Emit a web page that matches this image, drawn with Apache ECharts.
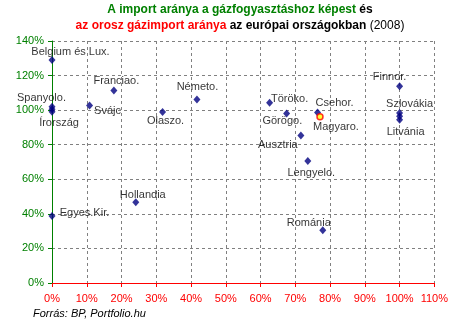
<!DOCTYPE html>
<html><head><meta charset="utf-8">
<script src="https://cdn.jsdelivr.net/npm/echarts@6/dist/echarts.min.js"></script>
<style>html,body{margin:0;padding:0;background:#fff}#c{width:451px;height:327px}</style>
</head><body><div id="c"></div>
<script>
var countries = ["Belgium és Lux.","Spanyolo.","Írország","","Svájc","Franciao.","Olaszo.","Németo.","Töröko.","Görögo.","Csehor.","Ausztria","Lengyelo.","Finnor.","Szlovákia","","Litvánia","Románia","Hollandia","Egyes.Kir."];
var russianShare = [0,0,0,0,10.8,17.8,31.8,41.7,62.6,67.5,76.4,71.6,73.6,100,100,100,100,77.9,24.1,0];
var importRatio = [129,102,99,100.5,102.7,111.4,98.9,106.2,104.3,98.1,98.7,85.4,70.6,113.8,98.4,96.4,94.4,30.5,46.7,38.8];
var hunName = "Magyaro.";
var hunRussian = 77.1;
var hunImport = 96.2;
var xTicks = [0,10,20,30,40,50,60,70,80,90,100,110];
var yTicks = [0,20,40,60,80,100,120,140];

// label offsets (layout only)
var labelOffsets = [[18.5,-8],[-10.5,-8.5],[7,11],[0,0],[18,5],[2.5,-9.5],[3,9],[0.5,-12.7],[20,-4],[-4.3,7.7],[17,-9.6],[-23,9.7],[3.5,11.7],[-10,-9.6],[10,-8.5],[0,0],[6,12],[-14,-7],[7,-7],[32.5,-3.3]];
var hunOffset = [16,10.6];

var font = "'Liberation Sans', Arial, sans-serif";
var mainData = countries.map(function(n,i){
  return {name:n, value:[russianShare[i], importRatio[i]],
    label:{show: n!=="", formatter: n, position:'inside', offset: labelOffsets[i]}};
});
var chart = echarts.init(document.getElementById('c'), null, {renderer:'canvas'});
chart.setOption({
  animation:false,
  backgroundColor:'#fff',
  grid:{left:52,right:16,top:41,bottom:44,containLabel:false},
  graphic:[
    {type:'text', x:240, y:10, style:{text:'{g|A import aránya a gázfogyasztáshoz képest} {k|és}', align:'center', verticalAlign:'middle',
      rich:{g:{fill:'#008000',font:'bold 12px '+font},k:{fill:'#000',font:'bold 12px '+font}}}},
    {type:'text', x:240, y:26, style:{text:'{r|az orosz gázimport aránya} {k|az európai országokban} {n|(2008)}', align:'center', verticalAlign:'middle',
      rich:{r:{fill:'#ff0000',font:'bold 12px '+font},k:{fill:'#000',font:'bold 12px '+font},n:{fill:'#000',font:'12px '+font}}}},
    {type:'text', x:33, y:314, style:{text:'Forrás: BP, Portfolio.hu', align:'left', verticalAlign:'middle', fill:'#000', font:'italic 11px '+font}}
  ],
  xAxis:{type:'value', min:xTicks[0], max:xTicks[xTicks.length-1], interval:10,
    axisLine:{show:true,onZero:false,lineStyle:{color:'#ff0000',width:1}},
    axisTick:{show:true,length:4,lineStyle:{color:'#ff0000'}},
    axisLabel:{color:'#ff0000',fontFamily:font,fontSize:11,margin:10,formatter:'{value}%'},
    splitLine:{show:true,lineStyle:{color:'#808080',type:[3,3],width:1}}},
  yAxis:{type:'value', min:yTicks[0], max:yTicks[yTicks.length-1], interval:20,
    axisLine:{show:true,onZero:false,lineStyle:{color:'#008000',width:1}},
    axisTick:{show:true,length:4,lineStyle:{color:'#008000'}},
    axisLabel:{color:'#008000',fontFamily:font,fontSize:11,margin:8,formatter:'{value}%'},
    splitLine:{show:true,lineStyle:{color:'#808080',type:[3,3],width:1}}},
  series:[
    {type:'scatter', symbol:'diamond', symbolSize:[7,8], itemStyle:{color:'#000080'},
      label:{color:'#000',textBorderWidth:0,textBorderColor:'transparent',fontFamily:font,fontSize:11,align:'center',verticalAlign:'middle'},
      data:mainData, z:3},
    {type:'scatter', symbol:'circle', symbolSize:6, itemStyle:{color:'#ffff00',borderColor:'#ff0000',borderWidth:1.5},
      label:{show:true,position:'inside',offset:hunOffset,formatter:hunName,color:'#000',textBorderWidth:0,textBorderColor:'transparent',fontFamily:font,fontSize:11,align:'center',verticalAlign:'middle'},
      data:[{name:hunName,value:[hunRussian,hunImport]}], z:4}
  ]
});
</script></body></html>
